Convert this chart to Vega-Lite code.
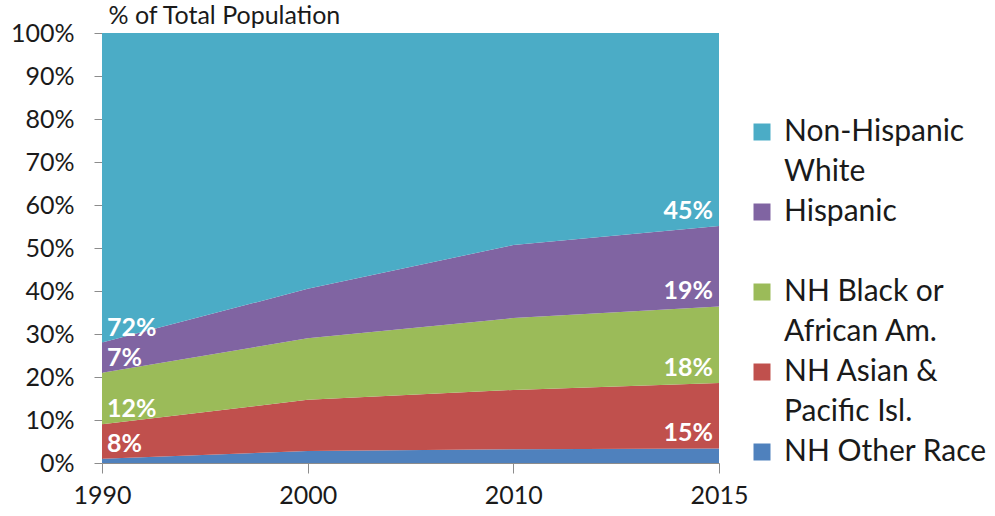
{
  "$schema": "https://vega.github.io/schema/vega-lite/v6.json",
  "width": 617,
  "height": 430,
  "padding": {"left": 10, "top": 3, "right": 5, "bottom": 5},
  "background": "white",
  "config": {"font": "Lato", "view": {"stroke": null}, "style": {"guide-label": {"lineHeight": 40}}},
  "data": {"values": [
    {"year": "1990", "group": "NH Other Race", "rank": 1, "pct": 1.0, "label": ""},
    {"year": "1990", "group": "NH Asian & Pacific Isl.", "rank": 2, "pct": 8.0, "label": "8%"},
    {"year": "1990", "group": "NH Black or African Am.", "rank": 3, "pct": 12.0, "label": "12%"},
    {"year": "1990", "group": "Hispanic", "rank": 4, "pct": 7.0, "label": "7%"},
    {"year": "1990", "group": "Non-Hispanic White", "rank": 5, "pct": 72.0, "label": "72%"},
    {"year": "2000", "group": "NH Other Race", "rank": 1, "pct": 2.8, "label": ""},
    {"year": "2000", "group": "NH Asian & Pacific Isl.", "rank": 2, "pct": 11.9, "label": ""},
    {"year": "2000", "group": "NH Black or African Am.", "rank": 3, "pct": 14.3, "label": ""},
    {"year": "2000", "group": "Hispanic", "rank": 4, "pct": 11.5, "label": ""},
    {"year": "2000", "group": "Non-Hispanic White", "rank": 5, "pct": 59.5, "label": ""},
    {"year": "2010", "group": "NH Other Race", "rank": 1, "pct": 3.2, "label": ""},
    {"year": "2010", "group": "NH Asian & Pacific Isl.", "rank": 2, "pct": 13.8, "label": ""},
    {"year": "2010", "group": "NH Black or African Am.", "rank": 3, "pct": 16.7, "label": ""},
    {"year": "2010", "group": "Hispanic", "rank": 4, "pct": 17.0, "label": ""},
    {"year": "2010", "group": "Non-Hispanic White", "rank": 5, "pct": 49.3, "label": ""},
    {"year": "2015", "group": "NH Other Race", "rank": 1, "pct": 3.4, "label": ""},
    {"year": "2015", "group": "NH Asian & Pacific Isl.", "rank": 2, "pct": 15.2, "label": "15%"},
    {"year": "2015", "group": "NH Black or African Am.", "rank": 3, "pct": 17.8, "label": "18%"},
    {"year": "2015", "group": "Hispanic", "rank": 4, "pct": 18.7, "label": "19%"},
    {"year": "2015", "group": "Non-Hispanic White", "rank": 5, "pct": 44.9, "label": "45%"}
  ]},
  "transform": [
    {"stack": "pct", "groupby": ["year"], "sort": [{"field": "rank"}], "as": ["y0", "y1"]}
  ],
  "encoding": {
    "x": {
      "field": "year", "type": "ordinal",
      "scale": {"type": "point", "padding": 0},
      "axis": {"labelAngle": 0, "labelFontSize": 25, "labelColor": "#1a1a1a", "labelPadding": 10,
               "tickSize": 10, "tickColor": "#8c8c8c", "domainColor": "#8c8c8c", "title": null}
    }
  },
  "layer": [
    {
      "mark": {"type": "area", "opacity": 1},
      "encoding": {
        "y": {"field": "y0", "type": "quantitative",
              "scale": {"domain": [0, 100]},
              "axis": {"values": [0,10,20,30,40,50,60,70,80,90,100], "labelExpr": "datum.value + '%'",
                       "labelFontSize": 25, "labelColor": "#1a1a1a", "labelPadding": 20, "tickSize": 8,
                       "tickColor": "#8c8c8c", "domainColor": "#8c8c8c", "grid": false,
                       "title": "% of Total Population", "titleAngle": 0, "titleAlign": "left", "titleBaseline": "bottom",
                       "titleX": 6, "titleY": -5, "titleFontSize": 25, "titleFontWeight": "normal", "titleColor": "#1a1a1a"}},
        "y2": {"field": "y1"},
        "color": {
          "field": "group", "type": "nominal",
          "scale": {
            "domain": ["Non-Hispanic White", "Hispanic", "NH Black or African Am.", "NH Asian & Pacific Isl.", "NH Other Race"],
            "range": ["#4BACC6", "#8064A2", "#9BBB59", "#C0504D", "#4F81BD"]
          },
          "legend": {
            "orient": "none", "legendX": 645, "legendY": 84, "title": null,
            "symbolType": "square", "symbolSize": 289, "symbolStrokeWidth": 0,
            "labelFontSize": 30, "labelColor": "#1a1a1a", "labelLimit": 300, "labelOffset": 7,
            "labelExpr": "datum.label == 'Non-Hispanic White' ? ['Non-Hispanic', 'White'] : datum.label == 'Hispanic' ? ['Hispanic', ' '] : datum.label == 'NH Black or African Am.' ? ['NH Black or', 'African Am.'] : datum.label == 'NH Asian & Pacific Isl.' ? ['NH Asian &', 'Pacific Isl.'] : datum.label",
            "labelBaseline": "middle", "rowPadding": 10
          }
        },
        "order": {"field": "rank", "type": "quantitative"}
      }
    },
    {
      "transform": [{"filter": "datum.year == '1990' && datum.label != ''"}],
      "mark": {"type": "text", "align": "left", "baseline": "bottom", "dx": 5, "dy": -2, "fontSize": 25, "fontWeight": "bold", "color": "white"},
      "encoding": {
        "y": {"field": "y0", "type": "quantitative"},
        "text": {"field": "label"}
      }
    },
    {
      "transform": [{"filter": "datum.year == '2015' && datum.label != ''"}],
      "mark": {"type": "text", "align": "right", "baseline": "bottom", "dx": -6, "dy": -2, "fontSize": 25, "fontWeight": "bold", "color": "white"},
      "encoding": {
        "y": {"field": "y0", "type": "quantitative"},
        "text": {"field": "label"}
      }
    }
  ]
}
